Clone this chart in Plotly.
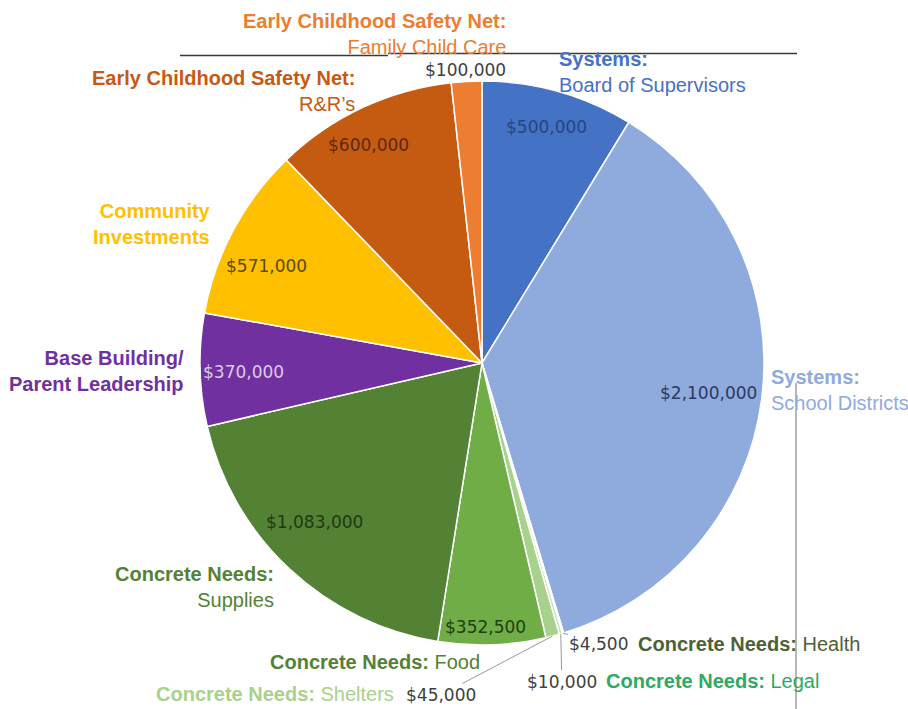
import math
import plotly.graph_objects as go

# ---------------- data ----------------
groups = ["Systems:", "Systems:", "Concrete Needs:", "Concrete Needs:", "Concrete Needs:",
          "Concrete Needs:", "Concrete Needs:", "Base Building/", "Community",
          "Early Childhood Safety Net:", "Early Childhood Safety Net:"]
names = ["Board of Supervisors", "School Districts", "Health", "Legal", "Shelters",
         "Food", "Supplies", "Parent Leadership", "Investments", "R&R’s", "Family Child Care"]
values = [500000, 2100000, 4500, 10000, 45000, 352500, 1083000, 370000, 571000, 600000, 100000]

# ---------------- styles ----------------
slice_colors = ["#4472C4", "#8FAADC", "#E2EFDA", "#C5E0B4", "#A9D18E", "#70AD47",
                "#548235", "#7030A0", "#FFC000", "#C55A11", "#ED7D31"]
name_colors = ["#4472C4", "#8FAADC", "#4D6137", "#2DAA63", "#A9D18E", "#538135",
               "#548235", "#7030A0", "#FFC000", "#C55A11", "#ED7D31"]
name_all_bold = [False, False, False, False, False, False, False, True, True, False, False]
value_colors = ["#27457F", "#2B3A5E", "#404040", "#404040", "#404040", "#1E4010",
                "#1E3A10", "#DCCBEA", "#5A4A10", "#5A2A0A", "#404040"]

# name label placement (pixel x, pixel y, anchor, separator)
name_pos = [
    (557, 72, "left", "<br>"),
    (769, 389.5, "left", "<br>"),
    (636, 644, "left", " "),
    (604, 681, "left", " "),
    (396, 694, "right", " "),
    (482, 662, "right", " "),
    (276, 586.5, "right", "<br>"),
    (186, 371, "right", "<br>"),
    (213, 223.5, "right", "<br>"),
    (357, 90.5, "right", "<br>"),
    (508, 33.5, "right", "<br>"),
]
# value label: radial fraction + angular nudge (inside) or leader offset (ax, ay)
val_r = [0.867, 0.81, None, None, None, 0.936, 0.818, 0.848, 0.84, 0.872, 1.04]
val_dtheta = [-0.5, 0.3, 0, 0, 0, 1.3, 3.4, -0.8, -3.9, -2.5, 0]
val_leader = [None, None, (36, 11), (1, 48), (-112, 59), None, None, None, None, None, None]

W, H = 908, 709
CX, CY, R = 482, 363, 282


def px(x):
    return x / W


def py(y):
    return 1 - y / H


total = sum(values)
mids = []
cum = 0
for v in values:
    mids.append((cum + v / 2) / total * 360)
    cum += v

fig = go.Figure(go.Pie(
    values=values, labels=names, sort=False, direction="clockwise", rotation=0,
    marker=dict(colors=slice_colors, line=dict(color="white", width=1.5)),
    textinfo="none", hoverinfo="label+value", showlegend=False,
    domain=dict(x=[px(CX - R), px(CX + R)], y=[py(CY + R), py(CY - R)]),
))

annotations = []
# value labels
for i, v in enumerate(values):
    txt = f"${v:,}"
    font = dict(family="DejaVu Sans", size=17, color=value_colors[i])
    if val_leader[i] is None:
        th = math.radians(mids[i] + val_dtheta[i])
        rr = val_r[i] * R
        x = CX + rr * math.sin(th)
        y = CY - rr * math.cos(th)
        annotations.append(dict(x=px(x), y=py(y), xref="paper", yref="paper", text=txt,
                                showarrow=False, xanchor="center", yanchor="middle", font=font))
    else:
        th = math.radians(mids[i])
        x = CX + R * math.sin(th)
        y = CY - R * math.cos(th)
        ax, ay = val_leader[i]
        annotations.append(dict(x=px(x), y=py(y), xref="paper", yref="paper", text=txt,
                                showarrow=True, arrowhead=0, arrowwidth=1, arrowcolor="#9A9A9A",
                                ax=ax, ay=ay, standoff=0, font=font))

# category labels
for i, (g, n) in enumerate(zip(groups, names)):
    x, y, anc, sep = name_pos[i]
    if name_all_bold[i]:
        txt = f"<b>{g}{sep}{n}</b>"
    else:
        txt = f"<b>{g}</b>{sep}{n}"
    annotations.append(dict(x=px(x), y=py(y), xref="paper", yref="paper", text=txt,
                            showarrow=False, xanchor=anc, yanchor="middle", align=anc,
                            font=dict(family="Liberation Sans", size=20, color=name_colors[i])))

shapes = [
    dict(type="line", xref="paper", yref="paper", x0=px(180), x1=px(388), y0=py(55.5), y1=py(55.5),
         line=dict(color="#3A3A3A", width=1.5)),
    dict(type="line", xref="paper", yref="paper", x0=px(388), x1=px(797), y0=py(53.5), y1=py(53.5),
         line=dict(color="#3A3A3A", width=1.5)),
    dict(type="line", xref="paper", yref="paper", x0=px(796), x1=px(796), y0=py(383), y1=py(709),
         line=dict(color="#A0A0A0", width=1.5)),
]

fig.update_layout(
    width=W, height=H, margin=dict(l=0, r=0, t=0, b=0),
    paper_bgcolor="white", plot_bgcolor="white",
    annotations=annotations, shapes=shapes,
)

fig.write_html("out.html")
